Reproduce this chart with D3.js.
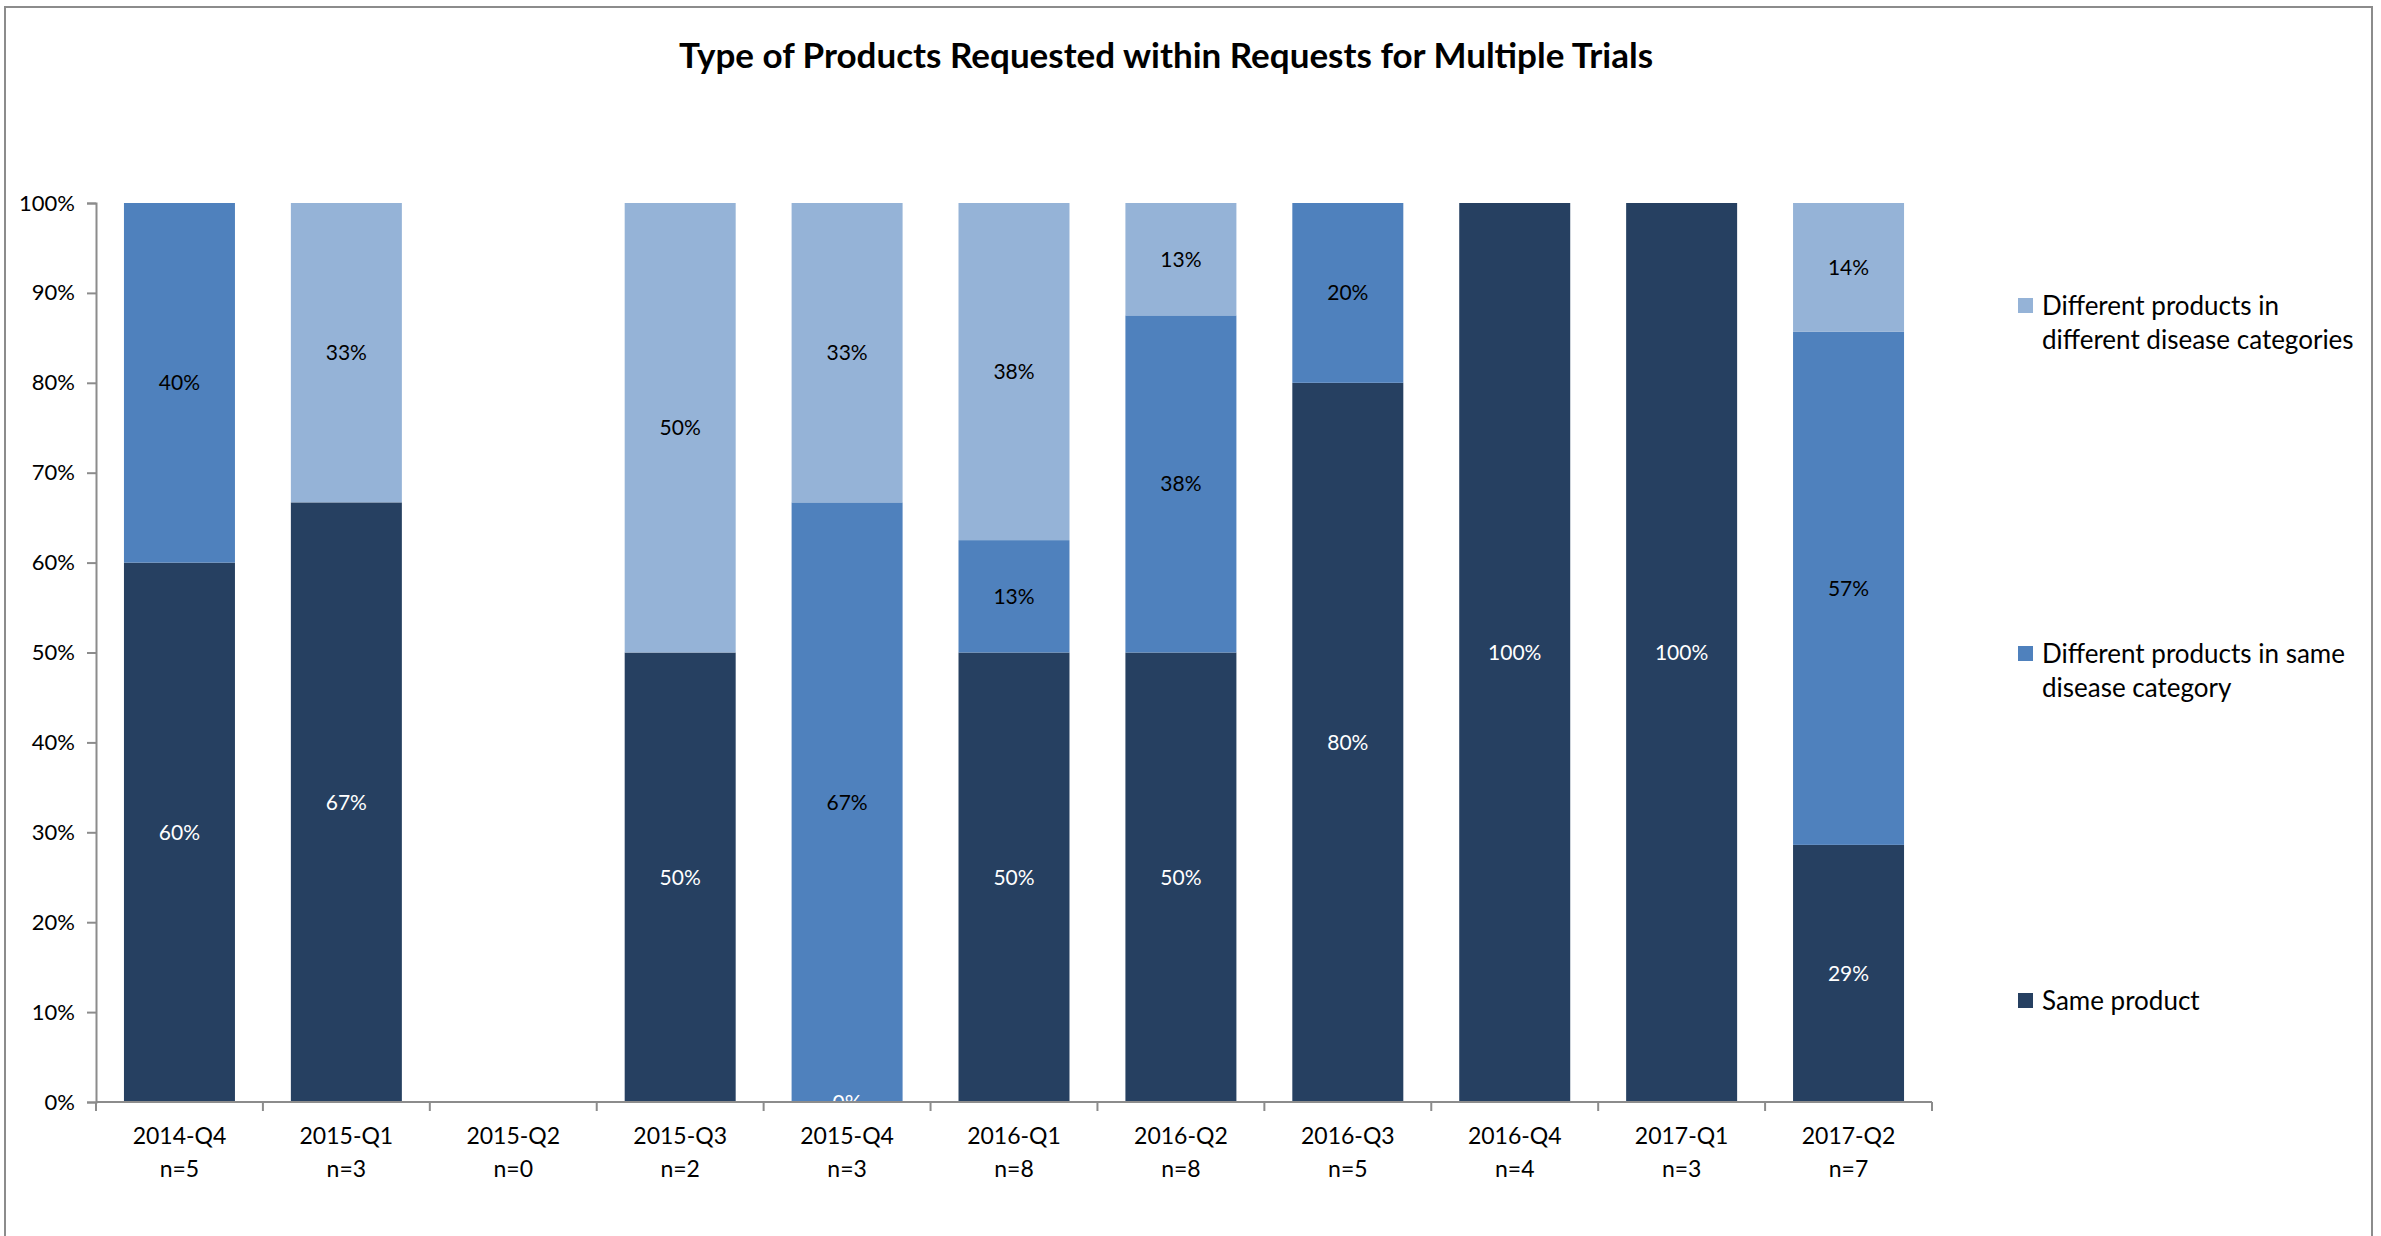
<!DOCTYPE html>
<html>
<head>
<meta charset="utf-8">
<script src="https://cdn.jsdelivr.net/npm/d3@7"></script>
<style>
  body { margin: 0; background: #fff; }
  text { font-family: Lato, "Noto Sans", sans-serif; }
</style>
</head>
<body>
<div id="chart"></div>
<script>
// quarters and request counts
const quarters = ["2014-Q4", "2015-Q1", "2015-Q2", "2015-Q3", "2015-Q4", "2016-Q1",
                  "2016-Q2", "2016-Q3", "2016-Q4", "2017-Q1", "2017-Q2"];
const counts = [5, 3, 0, 2, 3, 8, 8, 5, 4, 3, 7];

// percent of requests per quarter (null = blank cell, no label)
const sameProduct = [60, 66.7, null, 50, 0, 50, 50, 80, 100, 100, 28.6];
const sameCategory = [40, null, null, null, 66.7, 12.5, 37.5, 20, null, null, 57.1];
const diffCategory = [null, 33.3, null, 50, 33.3, 37.5, 12.5, null, null, null, 14.3];

const yTicks = [0, 10, 20, 30, 40, 50, 60, 70, 80, 90, 100];

const seriesNames = ["Same product", "Different products in same disease category",
                     "Different products in different disease categories"];
const legendLines = [["Same product"],
                     ["Different products in same", "disease category"],
                     ["Different products in", "different disease categories"]];
const colors = ["#264061", "#4F81BD", "#95B3D7"];
const labelColors = ["#fff", "#000", "#000"];

const width = 2381, height = 1236;
const plotL = 96, plotR = 1932, plotT = 203, plotB = 1102;

const svg = d3.select("#chart").append("svg")
    .attr("width", width)
    .attr("height", height);

// chart border
svg.append("rect")
    .attr("x", 5).attr("y", 7)
    .attr("width", 2367).attr("height", 1260)
    .attr("fill", "none")
    .attr("stroke", "#8c8c8c")
    .attr("stroke-width", 2);

svg.append("text")
    .attr("x", 1166)
    .attr("y", 68)
    .attr("text-anchor", "middle")
    .style("font-size", "35px")
    .style("font-weight", "bold")
    .text("Type of Products Requested within Requests for Multiple Trials");

const x = d3.scaleBand()
    .domain(quarters)
    .range([plotL, plotR])
    .paddingInner(0.335)
    .paddingOuter(0.1675);

const y = d3.scaleLinear()
    .domain([0, 100])
    .range([plotB, plotT]);

// build stacked rows from the series arrays
const rows = quarters.map((q, i) => ({
    q: q,
    vals: [sameProduct[i], sameCategory[i], diffCategory[i]]
}));

const segs = [];
rows.forEach(r => {
    let acc = 0;
    r.vals.forEach((v, s) => {
        if (v === null) return;
        segs.push({ q: r.q, s: s, y0: acc, y1: acc + v, v: v });
        acc += v;
    });
});

svg.append("clipPath").attr("id", "plot")
    .append("rect")
    .attr("x", plotL).attr("y", plotT - 40)
    .attr("width", plotR - plotL).attr("height", plotB - plotT + 40);

const plot = svg.append("g").attr("clip-path", "url(#plot)");

plot.selectAll("rect.seg")
    .data(segs)
    .enter()
    .append("rect")
    .attr("class", "seg")
    .attr("x", d => x(d.q))
    .attr("width", x.bandwidth())
    .attr("y", d => y(d.y1))
    .attr("height", d => y(d.y0) - y(d.y1))
    .attr("fill", d => colors[d.s]);

plot.selectAll("text.lbl")
    .data(segs)
    .enter()
    .append("text")
    .attr("class", "lbl")
    .attr("x", d => x(d.q) + x.bandwidth() / 2)
    .attr("y", d => y((d.y0 + d.y1) / 2))
    .attr("dy", "0.36em")
    .attr("text-anchor", "middle")
    .attr("fill", d => labelColors[d.s])
    .style("font-size", "21px")
    .text(d => Math.round(d.v) + "%");

// y axis
const yAxis = svg.append("g")
    .attr("transform", `translate(${plotL},0)`)
    .call(d3.axisLeft(y).tickValues(yTicks).tickFormat(d => d + "%").tickSize(9).tickPadding(12));
yAxis.selectAll("text").style("font-size", "22px").attr("fill", "#000");
yAxis.selectAll("path, line").attr("stroke", "#8c8c8c").attr("stroke-width", 2);

// x axis: ticks at band boundaries
const bounds = d3.range(quarters.length + 1).map(i => plotL + i * (plotR - plotL) / quarters.length);
const xAxis = svg.append("g");
xAxis.append("line")
    .attr("x1", plotL).attr("x2", plotR)
    .attr("y1", plotB).attr("y2", plotB);
xAxis.selectAll("line.tk")
    .data(bounds)
    .enter()
    .append("line")
    .attr("class", "tk")
    .attr("x1", d => d).attr("x2", d => d)
    .attr("y1", plotB).attr("y2", plotB + 9);
xAxis.selectAll("line").attr("stroke", "#8c8c8c").attr("stroke-width", 2);

const xl = svg.selectAll("text.xl")
    .data(rows)
    .enter()
    .append("text")
    .attr("class", "xl")
    .attr("text-anchor", "middle")
    .style("font-size", "23px");
xl.append("tspan")
    .attr("x", d => x(d.q) + x.bandwidth() / 2)
    .attr("y", 1144)
    .text(d => d.q);
xl.append("tspan")
    .attr("x", d => x(d.q) + x.bandwidth() / 2)
    .attr("y", 1177)
    .text((d, i) => "n=" + counts[i]);

// legend, top item is the last series
const legendY = [1001, 654, 306];
const legend = svg.selectAll("g.leg")
    .data(seriesNames)
    .enter()
    .append("g")
    .attr("class", "leg")
    .attr("transform", (d, i) => `translate(2018,${legendY[i]})`);
legend.append("rect")
    .attr("x", 0).attr("y", -8)
    .attr("width", 15).attr("height", 15)
    .attr("fill", (d, i) => colors[i]);
legend.each(function (d, i) {
    d3.select(this).selectAll("text")
        .data(legendLines[i])
        .enter()
        .append("text")
        .attr("x", 24)
        .attr("y", (t, j) => j * 34)
        .attr("dy", "0.36em")
        .style("font-size", "26px")
        .text(t => t);
});
</script>
</body>
</html>
